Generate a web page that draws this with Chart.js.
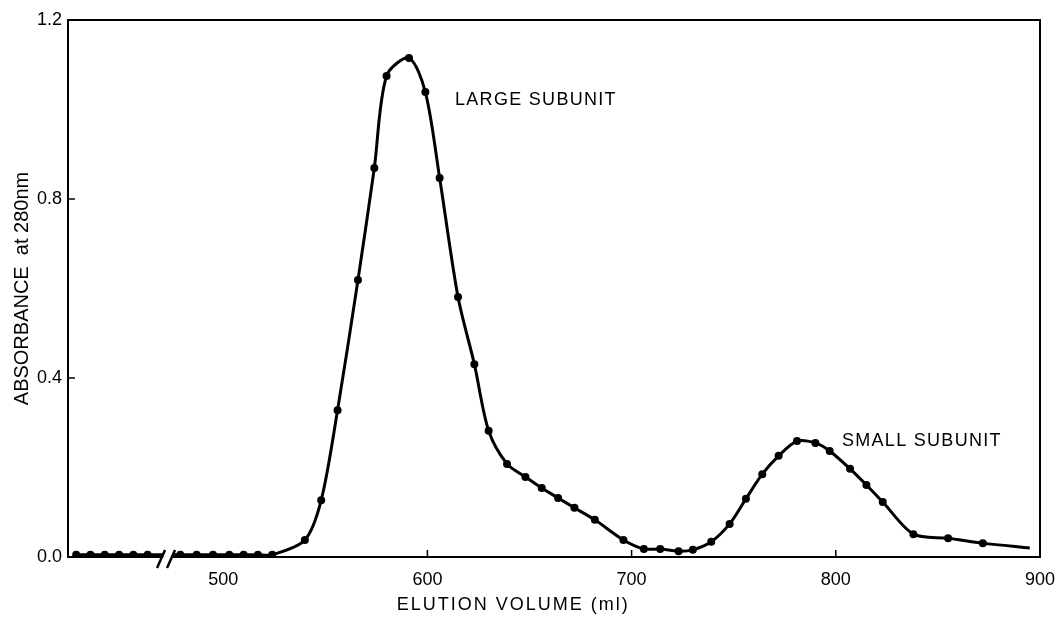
<!DOCTYPE html>
<html>
<head>
<meta charset="utf-8">
<script src="https://cdn.jsdelivr.net/npm/chart.js@4.4.1/dist/chart.umd.min.js"></script>
<style>
  html, body { margin: 0; padding: 0; background: #fff; }
  #wrap { width: 1059px; height: 619px; }
</style>
</head>
<body>
<div id="wrap"><canvas id="elution-chart"></canvas></div>
<script>
// elution profile
const volumes = [428, 435, 442, 449, 456, 463,
    479, 487, 495, 503, 510, 517, 524,
    540, 548, 556, 566, 574, 580, 591, 599, 606, 615, 623, 630,
    639, 648, 656, 664, 672, 682, 696, 706, 714, 723, 730,
    739, 748, 756, 764, 772, 781, 790, 797, 807, 815, 823,
    838, 855, 872, 895];
const absorbance = [0.005, 0.005, 0.005, 0.005, 0.005, 0.005,
    0.005, 0.005, 0.005, 0.005, 0.005, 0.005, 0.005,
    0.038, 0.127, 0.328, 0.619, 0.869, 1.075, 1.115, 1.039, 0.847, 0.581, 0.431, 0.282,
    0.208, 0.179, 0.154, 0.132, 0.110, 0.083, 0.038, 0.018, 0.018, 0.013, 0.016,
    0.034, 0.074, 0.130, 0.185, 0.226, 0.259, 0.255, 0.237, 0.197, 0.161, 0.123,
    0.051, 0.042, 0.031, 0.020];
const xTickValues = [500, 600, 700, 800, 900];
const yTickValues = [0, 0.4, 0.8, 1.2];
const peakLabels = ['LARGE SUBUNIT', 'SMALL SUBUNIT'];

const FONT = '"Liberation Sans", Arial, Helvetica, sans-serif';

// box, inward ticks, axis break, labels
const decorations = {
    id: 'decorations',
    afterDatasetsDraw(chart) {
        const ctx = chart.ctx;
        const a = chart.chartArea;
        const x = chart.scales.x, y = chart.scales.y;
        ctx.save();
        ctx.strokeStyle = '#000';
        ctx.lineWidth = 2;
        ctx.strokeRect(a.left, a.top, a.right - a.left, a.bottom - a.top);

        ctx.lineWidth = 1.5;
        ctx.beginPath();
        [600, 700, 800].forEach(v => {
            const px = x.getPixelForValue(v);
            ctx.moveTo(px, a.bottom);
            ctx.lineTo(px, a.bottom - 7);
        });
        [0.4, 0.8].forEach(v => {
            const py = y.getPixelForValue(v);
            ctx.moveTo(a.left, py);
            ctx.lineTo(a.left + 7, py);
        });
        ctx.stroke();

        // axis break "//"
        const bx = x.getPixelForValue(472);
        const by = a.bottom;
        ctx.fillStyle = '#fff';
        ctx.beginPath();
        ctx.moveTo(bx - 6, by + 10);
        ctx.lineTo(bx + 2, by + 10);
        ctx.lineTo(bx + 8, by - 8);
        ctx.lineTo(bx, by - 8);
        ctx.closePath();
        ctx.fill();
        ctx.lineWidth = 2.5;
        ctx.beginPath();
        ctx.moveTo(bx - 9, by + 11);
        ctx.lineTo(bx - 1, by - 7);
        ctx.moveTo(bx + 1, by + 11);
        ctx.lineTo(bx + 9, by - 7);
        ctx.stroke();

        ctx.fillStyle = '#000';
        ctx.font = '18px ' + FONT;
        ctx.letterSpacing = '1.3px';
        ctx.textBaseline = 'middle';
        ctx.textAlign = 'left';
        ctx.fillText(peakLabels[0], x.getPixelForValue(613.5), y.getPixelForValue(1.021));
        ctx.fillText(peakLabels[1], x.getPixelForValue(803), y.getPixelForValue(0.259));

        ctx.letterSpacing = '2px';
        ctx.textAlign = 'center';
        ctx.fillText('ELUTION VOLUME (ml)', x.getPixelForValue(642), 605);
        ctx.restore();
    }
};

const elutionChart = new Chart(document.getElementById('elution-chart'), {
    type: 'line',
    data: {
        datasets: [{
            data: volumes.map((v, i) => ({ x: v, y: absorbance[i] })),
            borderColor: '#000',
            borderWidth: 3,
            backgroundColor: '#000',
            pointRadius: ctx => ctx.dataIndex === volumes.length - 1 ? 0 : 4,
            pointBorderWidth: 0,
            tension: 0.3,
            fill: false
        }]
    },
    options: {
        responsive: true,
        maintainAspectRatio: false,
        animation: false,
        layout: { padding: { top: 20, right: 19, left: 0, bottom: 0 } },
        plugins: { legend: { display: false }, tooltip: { enabled: false } },
        scales: {
            x: {
                type: 'linear',
                min: 424,
                max: 900,
                grid: { display: false, drawTicks: false },
                border: { display: false },
                afterBuildTicks: s => { s.ticks = xTickValues.map(v => ({ value: v })); },
                afterFit: s => { s.height = 62; s.paddingRight = 0; s.paddingLeft = 0; },
                ticks: {
                    color: '#000',
                    padding: 12,
                    font: { family: FONT, size: 18 },
                    callback: v => String(v)
                }
            },
            y: {
                min: 0,
                max: 1.2,
                grid: { display: false, drawTicks: false },
                border: { display: false },
                afterBuildTicks: s => { s.ticks = yTickValues.map(v => ({ value: v })); },
                afterFit: s => { s.width = 68; s.paddingTop = 0; s.paddingBottom = 0; },
                ticks: {
                    color: '#000',
                    padding: 6,
                    font: { family: FONT, size: 18 },
                    callback: v => Number(v).toFixed(1)
                },
                title: {
                    display: true,
                    text: 'ABSORBANCE  at 280nm',
                    color: '#000',
                    font: { family: FONT, size: 20 },
                    padding: { top: 10, bottom: 0 }
                }
            }
        }
    },
    plugins: [decorations]
});
</script>
</body>
</html>
